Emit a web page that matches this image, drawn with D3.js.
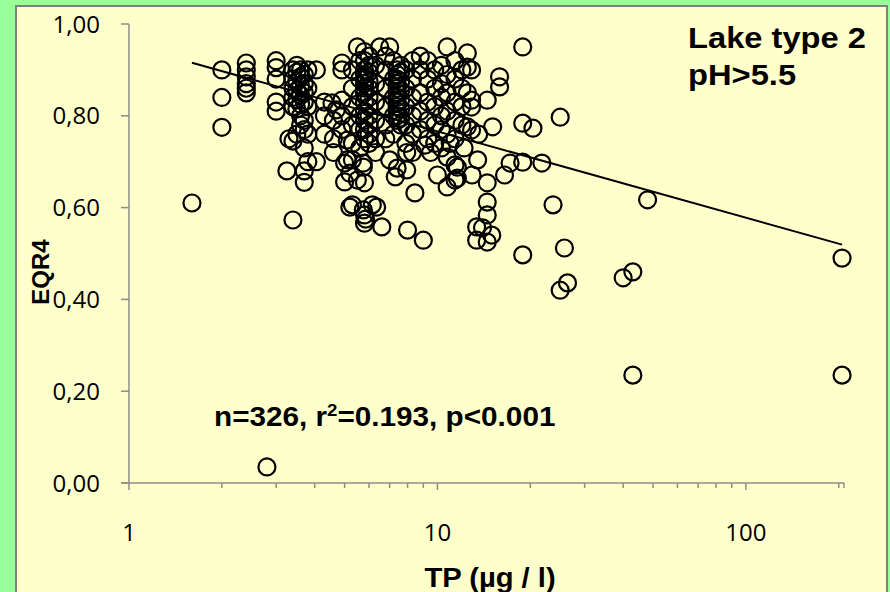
<!DOCTYPE html>
<html lang="en">
<head>
    <meta charset="UTF-8">
    <title>EQR4 vs TP</title>
    <style>
        body { margin: 0; background-color: #99ff99; }
        svg { display: block; }
        .tick-label { font-family: 'Open Sans', sans-serif; font-size: 24px; fill: #000; }
        .bold-label { font-family: 'Liberation Sans', Arial, sans-serif; font-weight: bold; fill: #000; }
    </style>
    <script src="https://d3js.org/d3.v7.min.js"></script>
</head>
<body>
<svg id="chart" width="890" height="592"></svg>
<script>
    const points = [
        [1.6, 0.61], [2.0, 0.90], [2.0, 0.84], [2.0, 0.775],
        [2.4, 0.915], [2.4, 0.90], [2.4, 0.885], [2.4, 0.87], [2.4, 0.86], [2.4, 0.85],
        [2.8, 0.035],
        [3.0, 0.92], [3.0, 0.905], [3.0, 0.88], [3.0, 0.83], [3.0, 0.81],
        [3.25, 0.68], [3.3, 0.75], [3.4, 0.573],
        [3.4, 0.90], [3.4, 0.88], [3.4, 0.86], [3.4, 0.84], [3.4, 0.82], [3.4, 0.745],
        [3.5, 0.91], [3.5, 0.895], [3.5, 0.875], [3.5, 0.855], [3.5, 0.835], [3.5, 0.815], [3.5, 0.76],
        [3.6, 0.90], [3.6, 0.885], [3.6, 0.865], [3.6, 0.845], [3.6, 0.825], [3.6, 0.80], [3.6, 0.78],
        [3.7, 0.89], [3.7, 0.87], [3.7, 0.85], [3.7, 0.83], [3.7, 0.79], [3.7, 0.77], [3.7, 0.73], [3.7, 0.68], [3.7, 0.655],
        [3.8, 0.90], [3.8, 0.86], [3.8, 0.82], [3.8, 0.76], [3.8, 0.70],
        [4.05, 0.90], [4.05, 0.70],
        [4.3, 0.83], [4.3, 0.80], [4.3, 0.76],
        [4.55, 0.828], [4.6, 0.79], [4.6, 0.75], [4.6, 0.72],
        [4.7, 0.813], [4.9, 0.915], [4.9, 0.834], [4.9, 0.80], [4.9, 0.90], [4.9, 0.77],
        [5.0, 0.697], [5.0, 0.656], [5.1, 0.747], [5.1, 0.704], [5.2, 0.675], [5.2, 0.601],
        [5.3, 0.90], [5.3, 0.86], [5.3, 0.82], [5.3, 0.78], [5.3, 0.74], [5.3, 0.704], [5.3, 0.606],
        [5.5, 0.95], [5.5, 0.66],
        [5.6, 0.92], [5.6, 0.88], [5.6, 0.84], [5.6, 0.80], [5.6, 0.77], [5.6, 0.73],
        [5.75, 0.697], [5.75, 0.688], [5.75, 0.595],
        [5.8, 0.94], [5.8, 0.92], [5.8, 0.90], [5.8, 0.89], [5.8, 0.88], [5.8, 0.87], [5.8, 0.86],
        [5.8, 0.85], [5.8, 0.83], [5.8, 0.81], [5.8, 0.79], [5.8, 0.77], [5.8, 0.75],
        [5.8, 0.654], [5.8, 0.584], [5.8, 0.566], [5.85, 0.575],
        [6.0, 0.93], [6.0, 0.91], [6.0, 0.895], [6.0, 0.875], [6.0, 0.86], [6.0, 0.84],
        [6.0, 0.82], [6.0, 0.80], [6.0, 0.78], [6.0, 0.76], [6.0, 0.74],
        [6.15, 0.606],
        [6.3, 0.91], [6.3, 0.87], [6.3, 0.83], [6.3, 0.79], [6.3, 0.75], [6.3, 0.72],
        [6.35, 0.601], [6.5, 0.95], [6.6, 0.558],
        [6.8, 0.93], [6.8, 0.90], [6.8, 0.86], [6.8, 0.82], [6.8, 0.78], [6.8, 0.75],
        [7.0, 0.95], [7.0, 0.704],
        [7.2, 0.92], [7.2, 0.88], [7.2, 0.84], [7.2, 0.80], [7.2, 0.76],
        [7.3, 0.667], [7.4, 0.686],
        [7.4, 0.90], [7.4, 0.89], [7.4, 0.88], [7.4, 0.87], [7.4, 0.86], [7.4, 0.85],
        [7.4, 0.84], [7.4, 0.83], [7.4, 0.82], [7.4, 0.81], [7.4, 0.80], [7.4, 0.79],
        [7.6, 0.91], [7.6, 0.895], [7.6, 0.875], [7.6, 0.855], [7.6, 0.835], [7.6, 0.815], [7.6, 0.795], [7.6, 0.78],
        [7.9, 0.90], [7.9, 0.86], [7.9, 0.82], [7.9, 0.78], [7.9, 0.74], [7.95, 0.72], [7.95, 0.682],
        [8.0, 0.551],
        [8.3, 0.92], [8.3, 0.88], [8.3, 0.84], [8.3, 0.80], [8.3, 0.76], [8.3, 0.72],
        [8.45, 0.632],
        [8.8, 0.93], [8.8, 0.90], [8.8, 0.85], [8.8, 0.81], [8.8, 0.77],
        [9.0, 0.529], [9.1, 0.736], [9.5, 0.72],
        [9.3, 0.92], [9.3, 0.88], [9.3, 0.83], [9.3, 0.79], [9.3, 0.75],
        [9.8, 0.90], [9.8, 0.86], [9.8, 0.82], [9.8, 0.78], [9.8, 0.74],
        [10.0, 0.671],
        [10.3, 0.91], [10.3, 0.87], [10.3, 0.84], [10.3, 0.80], [10.3, 0.77], [10.3, 0.73],
        [10.75, 0.95], [10.75, 0.89], [10.75, 0.85], [10.75, 0.81], [10.75, 0.76], [10.75, 0.71], [10.75, 0.645],
        [11.0, 0.74],
        [11.4, 0.92], [11.4, 0.88], [11.4, 0.83], [11.4, 0.79], [11.4, 0.75], [11.4, 0.693], [11.4, 0.66],
        [11.6, 0.688], [11.6, 0.664],
        [12.0, 0.90], [12.0, 0.86], [12.0, 0.82], [12.0, 0.78], [12.2, 0.73],
        [12.5, 0.937], [12.5, 0.906], [12.5, 0.85], [12.5, 0.776],
        [12.9, 0.90], [12.9, 0.834], [12.9, 0.819], [12.9, 0.769], [12.95, 0.671],
        [13.4, 0.558], [13.4, 0.529], [13.5, 0.704], [13.6, 0.76],
        [14.0, 0.556], [14.5, 0.834], [14.5, 0.654], [14.5, 0.612], [14.5, 0.584], [14.5, 0.525], [15.0, 0.540],
        [15.1, 0.776], [15.9, 0.885], [15.9, 0.863], [16.5, 0.671], [17.2, 0.697],
        [18.9, 0.95], [18.9, 0.784], [18.9, 0.699], [18.9, 0.497], [20.4, 0.773], [21.8, 0.697],
        [23.7, 0.606], [25, 0.797], [25.8, 0.512], [26.4, 0.436], [25, 0.42],
        [40, 0.447], [43, 0.46], [43, 0.235], [48, 0.617], [205, 0.49], [205, 0.235]
    ];

    // regression EQR4 = a + b * log10(TP)
    const trendIntercept = 0.954;
    const trendSlope = -0.188;
    const trendRange = [1.6, 205];

    const yTicks = [0, 0.2, 0.4, 0.6, 0.8, 1.0];
    const xMajorTicks = [1, 10, 100];
    const xMinorTicks = [2, 3, 4, 5, 6, 7, 8, 9, 20, 30, 40, 50, 60, 70, 80, 90, 200];
    const xDomain = [1, 208];

    const svg = d3.select("#chart");

    // yellow plot panel with grey frame
    svg.append("rect")
        .attr("x", 16).attr("y", 6)
        .attr("width", 871).attr("height", 600)
        .attr("fill", "#ffffcc")
        .attr("stroke", "#808080")
        .attr("stroke-width", 2);

    const x = d3.scaleLog().domain(xDomain).range([129, 844]);
    const y = d3.scaleLinear().domain([0, 1]).range([483, 24]);

    const axisColor = "#8c8c8c";

    // y axis
    svg.append("line")
        .attr("x1", x(1)).attr("x2", x(1))
        .attr("y1", y(0)).attr("y2", y(1))
        .attr("stroke", axisColor).attr("stroke-width", 1.5);
    svg.append("g").selectAll("line").data(yTicks).enter().append("line")
        .attr("x1", x(1) - 8).attr("x2", x(1))
        .attr("y1", d => y(d)).attr("y2", d => y(d))
        .attr("stroke", axisColor).attr("stroke-width", 1.5);
    svg.append("g").selectAll("text").data(yTicks).enter().append("text")
        .attr("class", "tick-label")
        .attr("x", 100)
        .attr("y", d => y(d))
        .attr("dy", "0.36em")
        .attr("text-anchor", "end")
        .text(d => d3.format(".2f")(d).replace(".", ","));

    // x axis
    svg.append("line")
        .attr("x1", x(1) - 8).attr("x2", x(xDomain[1]))
        .attr("y1", y(0)).attr("y2", y(0))
        .attr("stroke", axisColor).attr("stroke-width", 1.5);
    svg.append("g").selectAll("line").data(xMajorTicks).enter().append("line")
        .attr("x1", d => x(d)).attr("x2", d => x(d))
        .attr("y1", y(0)).attr("y2", y(0) + 7)
        .attr("stroke", axisColor).attr("stroke-width", 1.5);
    svg.append("g").selectAll("line").data(xMinorTicks.concat([xDomain[1]])).enter().append("line")
        .attr("x1", d => x(d)).attr("x2", d => x(d))
        .attr("y1", y(0)).attr("y2", y(0) + 5)
        .attr("stroke", axisColor).attr("stroke-width", 1.5);
    svg.append("g").selectAll("text").data(xMajorTicks).enter().append("text")
        .attr("class", "tick-label")
        .attr("x", d => x(d))
        .attr("y", 541)
        .attr("text-anchor", "middle")
        .text(d => d);

    // points
    svg.append("g").selectAll("circle").data(points).enter().append("circle")
        .attr("cx", d => x(d[0]))
        .attr("cy", d => y(d[1]))
        .attr("r", 8.5)
        .attr("fill", "none")
        .attr("stroke", "#000")
        .attr("stroke-width", 2.2);

    // trend line
    const trend = d3.line()
        .x(d => x(d))
        .y(d => y(trendIntercept + trendSlope * Math.log10(d)));
    svg.append("path")
        .attr("d", trend(trendRange))
        .attr("fill", "none")
        .attr("stroke", "#000")
        .attr("stroke-width", 2);

    // titles and annotations (the original text is a little wider than Arial)
    svg.append("text")
        .attr("class", "bold-label")
        .attr("transform", "translate(490,587) scale(1.08,1)")
        .attr("text-anchor", "middle")
        .style("font-size", "27px")
        .text("TP (µg / l)");

    svg.append("text")
        .attr("class", "bold-label")
        .attr("transform", "translate(49,272) rotate(-90)")
        .attr("text-anchor", "middle")
        .style("font-size", "24px")
        .text("EQR4");

    svg.append("text")
        .attr("class", "bold-label")
        .attr("transform", "translate(688,48) scale(1.09,1)")
        .style("font-size", "30px")
        .text("Lake type 2");
    svg.append("text")
        .attr("class", "bold-label")
        .attr("transform", "translate(688,85) scale(1.09,1)")
        .style("font-size", "30px")
        .text("pH>5.5");

    const stats = svg.append("text")
        .attr("class", "bold-label")
        .attr("transform", "translate(214,426) scale(1.1,1)")
        .style("font-size", "27px");
    stats.append("tspan").text("n=326, r");
    stats.append("tspan").attr("dy", -10).style("font-size", "17px").text("2");
    stats.append("tspan").attr("dy", 10).text("=0.193, p<0.001");
</script>
</body>
</html>
